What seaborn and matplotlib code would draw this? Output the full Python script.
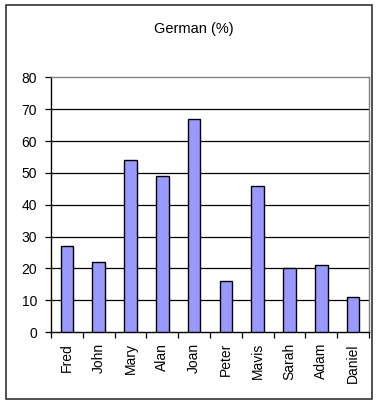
import matplotlib
matplotlib.use("Agg")
import matplotlib.pyplot as plt
import seaborn as sns
import pandas as pd
from matplotlib.patches import Rectangle

names = ["Fred", "John", "Mary", "Alan", "Joan", "Peter", "Mavis", "Sarah", "Adam", "Daniel"]
german = [27, 22, 54, 49, 67, 16, 46, 20, 21, 11]
yticks = [0, 10, 20, 30, 40, 50, 60, 70, 80]

df = pd.DataFrame({"name": names, "German": german})

sns.set_theme(style="white")
plt.rcParams["font.family"] = ["Liberation Sans", "DejaVu Sans"]
plt.rcParams["text.color"] = "black"
plt.rcParams["xtick.color"] = "black"
plt.rcParams["ytick.color"] = "black"
plt.rcParams["xtick.labelcolor"] = "black"
plt.rcParams["ytick.labelcolor"] = "black"

W, H = 379, 401
fig = plt.figure(figsize=(W / 100, H / 100), dpi=100)
ax = fig.add_axes([51 / W, 1 - 332 / H, (369 - 51) / W, (332 - 77.5) / H])

sns.barplot(data=df, x="name", y="German", ax=ax, color="#9999FF",
            saturation=1, width=0.4, edgecolor="black", linewidth=1.0, zorder=3)

ax.set_ylim(0, 80)
ax.set_xlim(-0.5, len(names) - 0.5)
ax.set_yticks(yticks)
ax.set_yticklabels([str(v) for v in yticks], fontsize=10, color="black")
ax.set_xlabel("")
ax.set_ylabel("")

for v in yticks[1:-1]:
    ax.axhline(v, color="black", linewidth=0.9, zorder=1)

# category ticks sit between bars
ax.set_xticks([i - 0.5 for i in range(len(names) + 1)], minor=False)
ax.set_xticklabels([""] * (len(names) + 1))
ax.tick_params(axis="x", which="major", direction="out", length=4, width=0.9, color="black", bottom=True)
ax.set_xticks(range(len(names)), minor=True)
ax.set_xticklabels(names, minor=True, rotation=90, fontsize=10, color="black")
ax.tick_params(axis="x", which="minor", length=0, pad=8)
ax.tick_params(axis="y", direction="out", length=4, width=0.9, color="black", left=True, pad=6)

for side in ["left", "bottom"]:
    ax.spines[side].set_color("black")
    ax.spines[side].set_linewidth(1.0)
for side in ["top", "right"]:
    ax.spines[side].set_color("#808080")
    ax.spines[side].set_linewidth(1.0)

fig.text(194 / W, 1 - 29 / H, "German (%)", ha="center", va="center",
         fontsize=10.5, color="black")

fig.patches.append(Rectangle((6 / W, 1 - 399 / H), (372 - 6) / W, (399 - 5) / H,
                             transform=fig.transFigure, fill=False,
                             edgecolor="#333333", linewidth=1.2))

fig.savefig("out.png", dpi=100)
